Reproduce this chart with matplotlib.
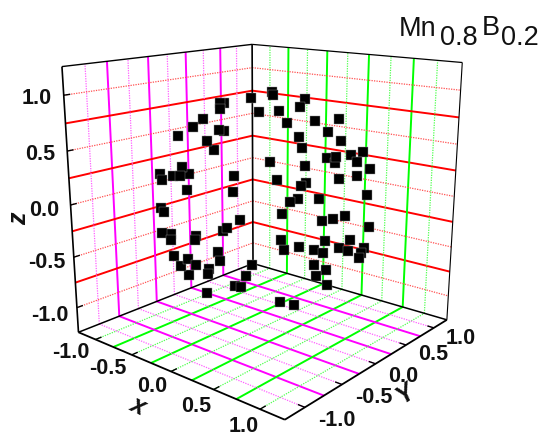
import numpy as np
import matplotlib
matplotlib.use('Agg')
import matplotlib.pyplot as plt

# atom positions, in thousandths of the axis unit
x_milli = [-1,-507,-296,-524,-160,-722,-337,-715,30,-803,-20,-913,-194,-773,-483,-960,-177,-996,358,-998,
           386,-846,-374,-751,370,-804,-478,-814,-276,-860,62,-626,-79,-715,279,-546,3,-614,109,-482,
           -146,-453,454,-371,373,-125,110,120,403,-344,478,-32,455,75,618,219,679,313,720,-23,
           832,69,866,-609,756,682,924,112,652,-271,787,556,890,-337,761,-459,987,99,922,707,
           932,426,737,-298,826,12,915,300,963,764,835,762,860,288,835,462,527,351]
y_milli = [-202,497,-279,18,-424,-66,-586,-402,-643,317,-734,280,-871,-587,-830,-251,-907,9,-818,-26,
           -863,-521,-927,484,-928,279,-855,-433,-939,-53,-991,-577,-941,106,-921,-572,-927,-135,-892,-530,
           -640,327,-794,-19,-760,241,-27,415,-15,610,-290,779,493,849,-304,865,-343,893,500,974,
           -68,979,195,782,-400,676,112,993,-625,960,-490,831,-374,910,-595,796,-141,924,-379,653,
           -346,762,-674,639,-548,740,-343,750,-49,490,312,456,-396,568,-328,346,-435,-12]
z_milli = [979,704,914,851,891,688,737,572,765,504,679,296,452,240,279,126,383,90,450,-64,
           327,-111,29,-448,35,-525,-200,-386,-204,-508,-118,-524,-330,-691,-271,-612,-375,-778,-438,-697,
           -754,-829,-403,-928,-532,963,994,902,915,714,829,626,744,524,725,452,649,322,480,225,
           550,193,460,132,519,279,366,30,430,-72,376,-25,260,-243,258,-395,79,-369,78,-271,
           -106,-488,-58,-709,-130,-672,-214,-590,-265,-420,-453,-460,-321,-771,-442,-817,-730,-936]

label_vals = [-1.0, -0.5, 0.0, 0.5, 1.0]
major_vals = [-0.75, -0.25, 0.25, 0.75]
L = 1.25
W, H = 546, 436

fig = plt.figure(figsize=(W/100, H/100), dpi=100)
ax = fig.add_subplot(projection='3d', computed_zorder=False)
ax.set_xlim(-L, L, view_margin=0)
ax.set_ylim(-L, L, view_margin=0)
ax.set_zlim(-L, L, view_margin=0)
ax.view_init(elev=15.7071, azim=-49.7394)
ax.set_proj_type('persp', focal_length=0.358)
ax.set_box_aspect((1, 1, 0.9961))
ax.set_position([0.05684, 0.00152, 0.83706, 1.04825])
ax.set_axis_off()


def seg(p, q, **kw):
    ax.plot([p[0], q[0]], [p[1], q[1]], [p[2], q[2]], solid_capstyle='butt', **kw)


thick = dict(lw=1.4)
dots = dict(lw=0.9, ls=(0, (1, 1)))
for v in major_vals:
    seg((-L, v, -L), (-L, v, L), color='#ff00ff', **thick)
    seg((v, L, -L), (v, L, L), color='#00ff00', **thick)
    seg((v, -L, -L), (v, L, -L), color='#00ff00', **thick)
    seg((-L, v, -L), (L, v, -L), color='#ff00ff', **thick)
    seg((-L, -L, v), (-L, L, v), color='#ff0000', **thick)
    seg((-L, L, v), (L, L, v), color='#ff0000', **thick)
for v in label_vals:
    seg((-L, v, -L), (-L, v, L), color='#ff60ff', **dots)
    seg((v, L, -L), (v, L, L), color='#50ff50', **dots)
    seg((v, -L, -L), (v, L, -L), color='#50ff50', **dots)
    seg((-L, v, -L), (L, v, -L), color='#ff60ff', **dots)
    seg((-L, -L, v), (-L, L, v), color='#ff5050', **dots)
    seg((-L, L, v), (L, L, v), color='#ff5050', **dots)

box = [((-L, -L, L), (-L, L, L), 1.0), ((-L, L, L), (L, L, L), 0.9),
       ((-L, -L, -L), (-L, -L, L), 1.2), ((-L, L, -L), (-L, L, L), 1.2), ((L, L, -L), (L, L, L), 0.8),
       ((-L, -L, -L), (-L, L, -L), 1.1), ((-L, L, -L), (L, L, -L), 1.1),
       ((-L, -L, -L), (L, -L, -L), 1.3), ((L, -L, -L), (L, L, -L), 1.3)]
for p, q, w in box:
    seg(p, q, color='black', lw=w)

tl = 0.07
for v in label_vals:
    seg((v, -L, -L), (v, -L+tl, -L), color='black', lw=1.0)
    seg((L, v, -L), (L-tl, v, -L), color='black', lw=1.0)
    seg((-L, -L, v), (-L, -L+tl, v), color='black', lw=1.0)

ax.scatter(np.array(x_milli)/1000, np.array(y_milli)/1000, np.array(z_milli)/1000, marker='s', s=60,
           c='black', edgecolors='#909090', linewidths=0.3, depthshade=False, zorder=5)

tick_font = dict(family='Liberation Sans', weight='bold', fontsize=15.5, ha='center', va='center', color='#111111')
z_label_xy = [(50, 315), (47, 262), (44, 210), (40, 155), (37, 98)]
x_label_xy = [(71, 353), (108, 368), (152, 386), (196, 406), (244, 426)]
y_label_xy = [(337, 420), (374, 397), (403, 376), (433, 355), (461, 338)]
tick_text = [f'{v:.1f}' for v in label_vals]
for xys in (z_label_xy, x_label_xy, y_label_xy):
    for (px, py), s in zip(xys, tick_text):
        fig.text(px/W, 1-py/H, s, **tick_font)

axis_font = dict(family='Liberation Sans', weight='bold', style='italic', fontsize=18, ha='center', va='center', color='#111111')
fig.text(137/W, 1-406/H, 'x', rotation=-25, **axis_font)
fig.text(406/W, 1-393/H, 'Y', rotation=35, **axis_font)
fig.text(19/W, 1-219/H, 'z', rotation=90, **axis_font)

title_font = dict(family='Liberation Sans', fontsize=19.5, ha='left', va='baseline', color='#111111')
fig.text(399/W, 1-36/H, 'Mn', **title_font)
fig.text(440/W, 1-45/H, '0.8', **title_font)
fig.text(482/W, 1-35/H, 'B', **title_font)
fig.text(501/W, 1-45/H, '0.2', **title_font)

fig.savefig('out.png', dpi=100)
